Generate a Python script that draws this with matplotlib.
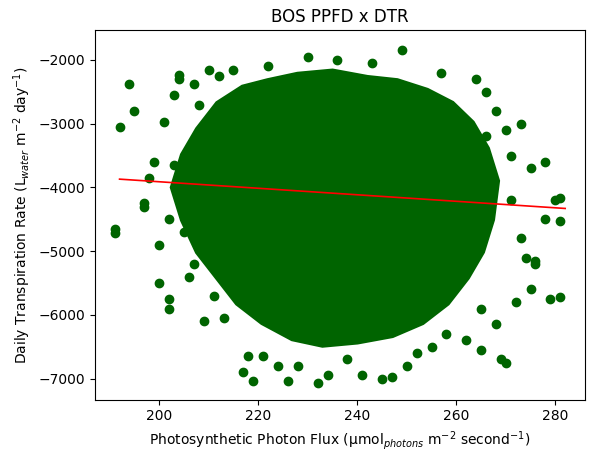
import matplotlib
matplotlib.use("Agg")
import matplotlib.pyplot as plt

# scattered points (edge / outlier points)
ppfd = [191, 191, 192, 194, 195, 197, 197, 198, 199, 200, 200, 201, 202, 202, 203, 204, 204,
        206, 207, 209, 210, 212, 213, 215, 217, 218, 219, 221, 222, 224, 226, 228, 230, 232,
        234, 236, 238, 241, 243, 245, 247, 249, 250, 252, 255, 257, 258, 262, 264, 265, 266,
        268, 269, 270, 271, 272, 273, 274, 275, 276, 278, 278, 279, 280, 281, 281, 281, 276,
        270, 268, 266, 273, 271, 275, 265, 202, 205, 203, 206, 207, 208, 211, 210]
dtr = [-4650, -4720, -3050, -2380, -2800, -4300, -4250, -3850, -3600, -4900, -5500, -2970,
       -5900, -5750, -2550, -2230, -2300, -5400, -2380, -6100, -2150, -2250, -6050, -2150,
       -6900, -6650, -7030, -6650, -2100, -6800, -7030, -6800, -1950, -7070, -6950, -2000,
       -6700, -6950, -2050, -7000, -6980, -1850, -6800, -6600, -6500, -2200, -6300, -6400,
       -2300, -6550, -2500, -6150, -6700, -6750, -3500, -5800, -3000, -5100, -3700, -5200,
       -3600, -4500, -5750, -4200, -4170, -5720, -4530, -5150, -3100, -2800, -3200, -4800,
       -4200, -5600, -5900, -4500, -4700, -3650, -3400, -5200, -2700, -5700, -3000]

# outline of the solid core of the point cloud
core_x = [203, 205, 208, 212, 217, 222, 228, 235, 242, 248, 254, 259, 263, 266, 268, 267,
          265, 262, 258, 253, 247, 240, 233, 227, 221, 216, 212, 208, 205]
core_y = [-4000, -3500, -3100, -2700, -2450, -2350, -2250, -2200, -2300, -2350, -2500,
          -2700, -3000, -3400, -3900, -4500, -5000, -5400, -5800, -6100, -6300, -6400,
          -6450, -6350, -6100, -5800, -5400, -5000, -4500]

# fitted line
fit_x = [192, 282]
fit_y = [-3870, -4330]

fig, ax = plt.subplots(figsize=(6, 4.62), dpi=100)
ax.fill(core_x, core_y, color='darkgreen', lw=6, edgecolor='darkgreen')
ax.scatter(ppfd, dtr, color='darkgreen')
ax.plot(fit_x, fit_y, color='red', lw=1.2)
ax.set_xlim(187, 286)
ax.set_ylim(-7330, -1530)
ax.set_title('BOS PPFD x DTR')
ax.set_xlabel(r'Photosynthetic Photon Flux (µmol$_{photons}$ m$^{-2}$ second$^{-1}$)')
ax.set_ylabel(r'Daily Transpiration Rate (L$_{water}$ m$^{-2}$ day$^{-1}$)')
plt.subplots_adjust(left=0.158, right=0.975, top=0.935, bottom=0.135)
plt.savefig('out.png')
